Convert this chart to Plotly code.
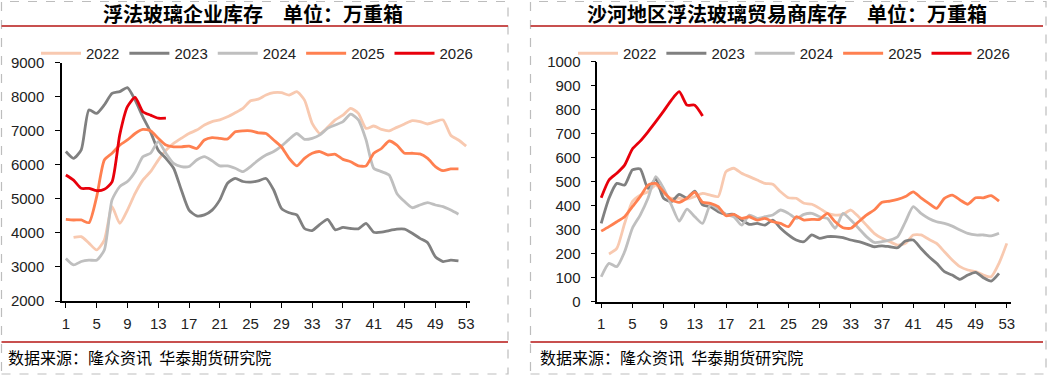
import plotly.graph_objects as go

W, H = 1048, 382
weeks = list(range(1, 54))
years = ["2022", "2023", "2024", "2025", "2026"]
colors = {"2022": "#F8C9B0", "2023": "#808080", "2024": "#BFBFBF", "2025": "#FF8050", "2026": "#E8000B"}

N = None
# Left: 浮法玻璃企业库存 (万重箱)
ent_2022 = [N, 3870, 3890, 3700, 3500, 3790, 4770, 4280, 4670, 5160, 5550, 5800, 6140, 6430, 6630, 6780, 6920,
            7020, 7170, 7270, 7320, 7410, 7530, 7660, 7880, 7930, 8050, 8120, 8120, 8050, 8150, 7900, 7220, 6920,
            7100, 7320, 7460, 7660, 7510, 7070, 7140, 7040, 7000, 7100, 7200, 7300, 7270, 7200, 7270, 7320, 6870,
            6730, 6550]
ent_2023 = [6390, 6190, 6440, 7610, 7510, 7760, 8100, 8150, 8270, 7900, 7410, 6970, 6430, 6190, 5900, 5260, 4670,
            4500, 4530, 4670, 4970, 5460, 5600, 5510, 5490, 5530, 5600, 5260, 4720, 4590, 4530, 4130, 4070, 4250,
            4400, 4090, 4160, 4130, 4120, 4280, 4020, 4020, 4070, 4110, 4110, 3990, 3840, 3710, 3300, 3160, 3200,
            3180, N]
ent_2024 = [3250, 3060, 3160, 3200, 3200, 3500, 4970, 5360, 5510, 5800, 6240, 6340, 6680, 6340, 6040, 5950, 5950,
            6140, 6240, 6120, 5970, 5970, 5900, 5800, 5950, 6140, 6290, 6390, 6550, 6750, 6920, 6750, 6780, 6880,
            7070, 7170, 7270, 7490, 7320, 6730, 5900, 5800, 5700, 5160, 4920, 4740, 4820, 4890, 4820, 4770, 4670,
            4550, N]
ent_2025 = [4400, 4380, 4380, 4300, 5060, 6140, 6340, 6580, 6730, 6920, 7040, 7000, 6780, 6580, 6530, 6530, 6550,
            6480, 6730, 6800, 6780, 6760, 6970, 7000, 7000, 6940, 6920, 6730, 6530, 6190, 5970, 6190, 6340, 6390,
            6290, 6310, 6160, 6090, 5970, 5970, 6340, 6480, 6700, 6580, 6340, 6340, 6320, 6190, 5950, 5830, 5880,
            5880, N]
ent_2026 = [5700, 5550, 5310, 5310, 5240, 5280, 5500, 6880, 7710, 7980, 7560, 7460, 7370, 7370] + [N] * 39

# Right: 沙河地区浮法玻璃贸易商库存 (万重箱)
sh_2022 = [N, 199, 222, 326, 417, 444, 458, 486, 451, 431, 431, 428, 438, 451, 444, 438, 542, 556, 535, 521, 507,
           493, 489, 458, 433, 431, 410, 406, 389, 368, 361, 364, 382, 354, 319, 285, 264, 250, 236, 243, 278, 278,
           260, 243, 208, 174, 146, 132, 125, 111, 104, 160, 243]
sh_2023 = [326, 431, 493, 486, 549, 553, 472, 511, 431, 417, 447, 433, 461, 403, 396, 375, 364, 364, 340, 322, 326,
           319, 340, 306, 278, 257, 250, 278, 264, 271, 271, 267, 257, 250, 240, 229, 233, 229, 225, 253, 257, 222,
           188, 160, 125, 111, 93, 111, 122, 100, 86, 118, N]
sh_2024 = [104, 160, 146, 208, 306, 361, 431, 521, 472, 403, 336, 386, 354, 326, 403, 386, 364, 354, 319, 361, 347,
           354, 361, 382, 368, 347, 364, 368, 354, 347, 306, 368, 340, 306, 271, 247, 250, 257, 271, 333, 396, 368,
           347, 333, 326, 315, 299, 285, 278, 278, 274, 285, N]
sh_2025 = [294, 313, 333, 354, 396, 438, 486, 493, 458, 424, 414, 431, 456, 414, 410, 396, 358, 364, 347, 354, 340,
           347, 333, 326, 313, 354, 340, 343, 343, 368, 333, 308, 306, 333, 361, 382, 414, 419, 426, 438, 458, 433,
           410, 389, 431, 444, 424, 406, 433, 433, 442, 419, N]
sh_2026 = [433, 507, 535, 569, 636, 669, 708, 750, 794, 840, 875, 819, 819, 774] + [N] * 39

left_series = dict(zip(years, [ent_2022, ent_2023, ent_2024, ent_2025, ent_2026]))
right_series = dict(zip(years, [sh_2022, sh_2023, sh_2024, sh_2025, sh_2026]))

tick_vals = list(range(1, 54, 4))
y_left_ticks = list(range(2000, 9001, 1000))
y_right_ticks = list(range(0, 1001, 100))

titles = ["浮法玻璃企业库存　单位：万重箱", "沙河地区浮法玻璃贸易商库存　单位：万重箱"]
source = "数据来源：隆众资讯  华泰期货研究院"

fig = go.Figure()
for y in years:
    fig.add_trace(go.Scatter(x=weeks, y=left_series[y], name=y, mode="lines", line=dict(color=colors[y], width=2.8, shape="spline", smoothing=0.6),
                             xaxis="x", yaxis="y", legend="legend", connectgaps=False, hoverinfo="skip"))
for y in years:
    fig.add_trace(go.Scatter(x=weeks, y=right_series[y], name=y, mode="lines", line=dict(color=colors[y], width=2.8, shape="spline", smoothing=0.6),
                             xaxis="x2", yaxis="y2", legend="legend2", connectgaps=False, hoverinfo="skip"))

def px(v):
    return v / W

def py(v):
    return 1 - v / H

tickfont = dict(family="Liberation Sans, Arial", size=15, color="#222")
axis_common = dict(showgrid=False, zeroline=False, showline=True, linecolor="#000", linewidth=1.5,
                   ticks="outside", ticklen=5, tickcolor="#000", tickfont=tickfont, automargin=False)

legfont = dict(family="Liberation Sans, Arial", size=15, color="#222")
fig.update_layout(
    width=W, height=H, margin=dict(l=0, r=0, t=0, b=0, autoexpand=False),
    paper_bgcolor="white", plot_bgcolor="white",
    showlegend=True,
    xaxis=dict(domain=[px(62), px(470)], range=[0.5, 53.5], tickvals=tick_vals, anchor="y", ticklabelstandoff=3, **axis_common),
    yaxis=dict(domain=[py(301), py(62.7)], range=[2000, 9000], tickvals=y_left_ticks, anchor="x", ticklabelstandoff=8, **axis_common),
    xaxis2=dict(domain=[px(597.3), px(1010.7)], range=[0.5, 53.5], tickvals=tick_vals, anchor="y2", ticklabelstandoff=3, **axis_common),
    yaxis2=dict(domain=[py(301.7), py(61.7)], range=[0, 1000], tickvals=y_right_ticks, anchor="x2", ticklabelstandoff=7, **axis_common),
    legend=dict(orientation="h", x=px(36), y=py(37), xanchor="left", yanchor="top", bgcolor="rgba(0,0,0,0)",
                font=legfont, itemwidth=40, tracegroupgap=0),
    legend2=dict(orientation="h", x=px(573), y=py(37), xanchor="left", yanchor="top", bgcolor="rgba(0,0,0,0)",
                 font=legfont, itemwidth=40, tracegroupgap=0),
)

shapes = []
dash_col = "#BDBDBD"
for (x0, x1) in [(1.5, 508), (530.5, 1046)]:
    shapes.append(dict(type="rect", xref="paper", yref="paper", x0=px(x0), x1=px(x1), y0=py(374), y1=py(1.5),
                       line=dict(color=dash_col, width=1.2, dash="dash"), fillcolor="rgba(0,0,0,0)", layer="below"))
for (x0, x1) in [(1.5, 508), (530.5, 1043)]:
    shapes.append(dict(type="line", xref="paper", yref="paper", x0=px(x0), x1=px(x1), y0=py(26), y1=py(26),
                       line=dict(color="#C8504F", width=2)))
    shapes.append(dict(type="line", xref="paper", yref="paper", x0=px(x0), x1=px(x1), y0=py(342), y1=py(342),
                       line=dict(color="#C8504F", width=2)))
fig.update_layout(shapes=shapes)

annots = []
for cx, t in zip([253, 787], titles):
    annots.append(dict(x=px(cx), y=py(14), xref="paper", yref="paper", text=f"<b>{t}</b>", showarrow=False,
                       xanchor="center", yanchor="middle",
                       font=dict(family="Noto Sans CJK SC", size=20, color="#000")))
for lx in [6, 538]:
    annots.append(dict(x=px(lx), y=py(357), xref="paper", yref="paper", text=source, showarrow=False,
                       xanchor="left", yanchor="middle",
                       font=dict(family="Noto Sans CJK SC", size=16, color="#000")))
fig.update_layout(annotations=annots)

fig.write_html("out.html", config={"displayModeBar": False},
               post_script="document.body.style.margin='0';document.body.style.padding='0';")
